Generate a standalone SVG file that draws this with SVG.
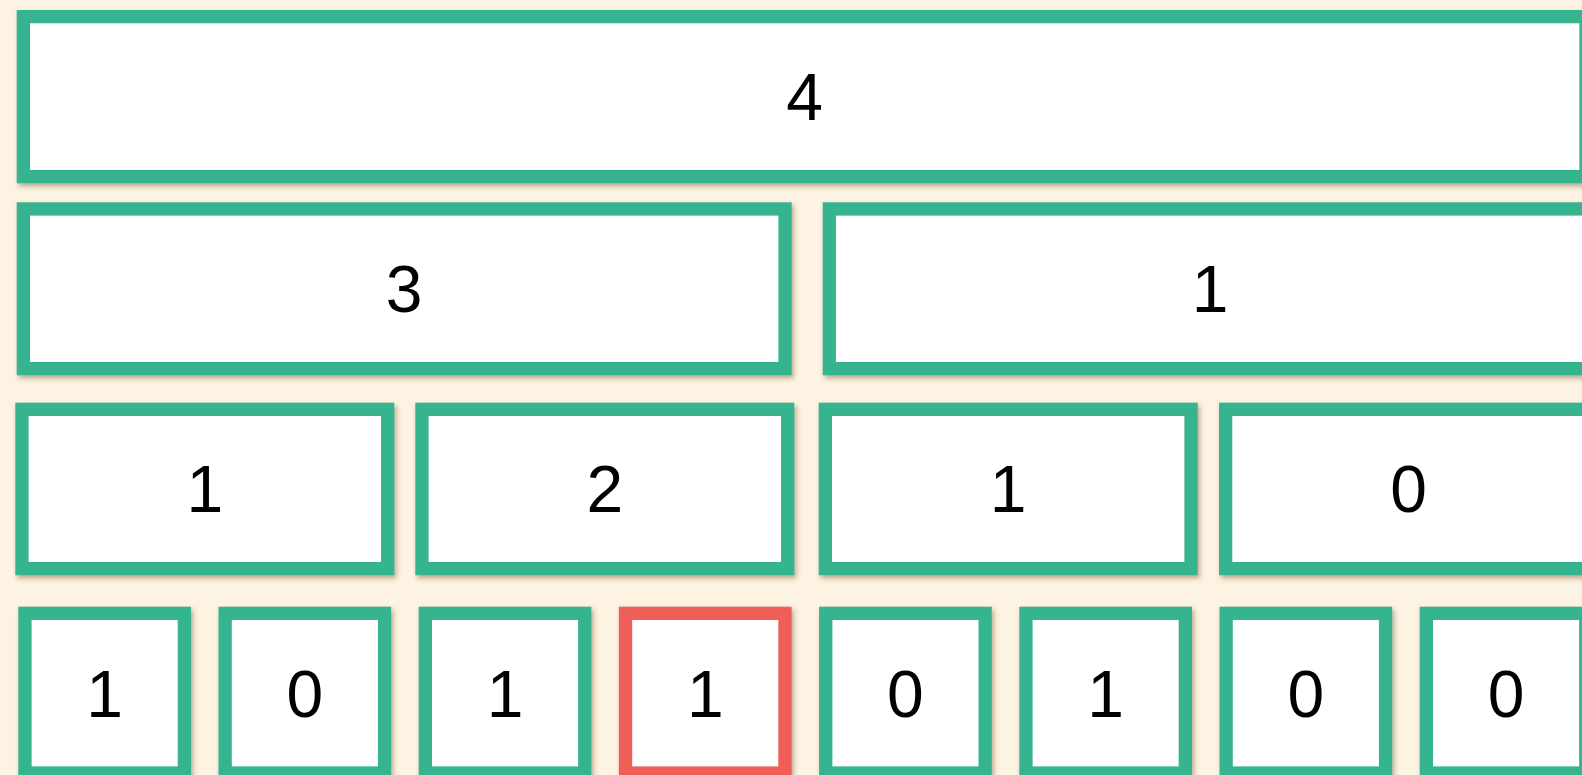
<svg xmlns="http://www.w3.org/2000/svg" width="1582" height="775" viewBox="0 0 1582 775">
<defs>
<filter id="sh" x="-10%" y="-10%" width="120%" height="130%">
<feDropShadow dx="2" dy="3" stdDeviation="2.5" flood-color="#6b4a22" flood-opacity="0.45"/>
</filter>
<style>
.b{fill:#ffffff;stroke:#34b48f;stroke-width:13.3;filter:url(#sh)}
.r{fill:#ffffff;stroke:#ef5e58;stroke-width:13.3;filter:url(#sh)}
.t{font-family:"Liberation Sans","DejaVu Sans",sans-serif;font-size:66px;fill:#000000;text-anchor:middle}
</style>
</defs>
<rect x="0" y="0" width="1582" height="775" fill="#fdf3e2"/>
<g id="n-root"><rect class="b" x="23.35" y="16.65" width="1562.7" height="160"/><text class="t" x="804.7" y="120">4</text></g>
<g id="n-l1-0"><rect class="b" x="23.35" y="208.95" width="761.7" height="159.7"/><text class="t" x="404.2" y="312.3">3</text></g>
<g id="n-l1-1"><rect class="b" x="829.35" y="208.95" width="761.7" height="159.7"/><text class="t" x="1210.2" y="312.3">1</text></g>
<g id="n-l2-0"><rect class="b" x="21.95" y="409.35" width="365.7" height="159.3"/><text class="t" x="204.8" y="512.4">1</text></g>
<g id="n-l2-1"><rect class="b" x="421.95" y="409.35" width="365.7" height="159.3"/><text class="t" x="604.8" y="512.4">2</text></g>
<g id="n-l2-2"><rect class="b" x="825.35" y="409.35" width="365.7" height="159.3"/><text class="t" x="1008.2" y="512.4">1</text></g>
<g id="n-l2-3"><rect class="b" x="1225.65" y="409.35" width="365.7" height="159.3"/><text class="t" x="1408.5" y="512.4">0</text></g>
<g id="n-leaf-0"><rect class="b" x="24.95" y="613.35" width="159.4" height="159.7"/><text class="t" x="104.65" y="716.9">1</text></g>
<g id="n-leaf-1"><rect class="b" x="225.15" y="613.35" width="159.4" height="159.7"/><text class="t" x="304.85" y="716.9">0</text></g>
<g id="n-leaf-2"><rect class="b" x="425.35" y="613.35" width="159.4" height="159.7"/><text class="t" x="505.05" y="716.9">1</text></g>
<g id="n-leaf-3"><rect class="r" x="625.55" y="613.35" width="159.4" height="159.7"/><text class="t" x="705.25" y="716.9">1</text></g>
<g id="n-leaf-4"><rect class="b" x="825.75" y="613.35" width="159.4" height="159.7"/><text class="t" x="905.45" y="716.9">0</text></g>
<g id="n-leaf-5"><rect class="b" x="1025.95" y="613.35" width="159.4" height="159.7"/><text class="t" x="1105.65" y="716.9">1</text></g>
<g id="n-leaf-6"><rect class="b" x="1226.15" y="613.35" width="159.4" height="159.7"/><text class="t" x="1305.85" y="716.9">0</text></g>
<g id="n-leaf-7"><rect class="b" x="1426.35" y="613.35" width="159.4" height="159.7"/><text class="t" x="1506.05" y="716.9">0</text></g>
</svg>
